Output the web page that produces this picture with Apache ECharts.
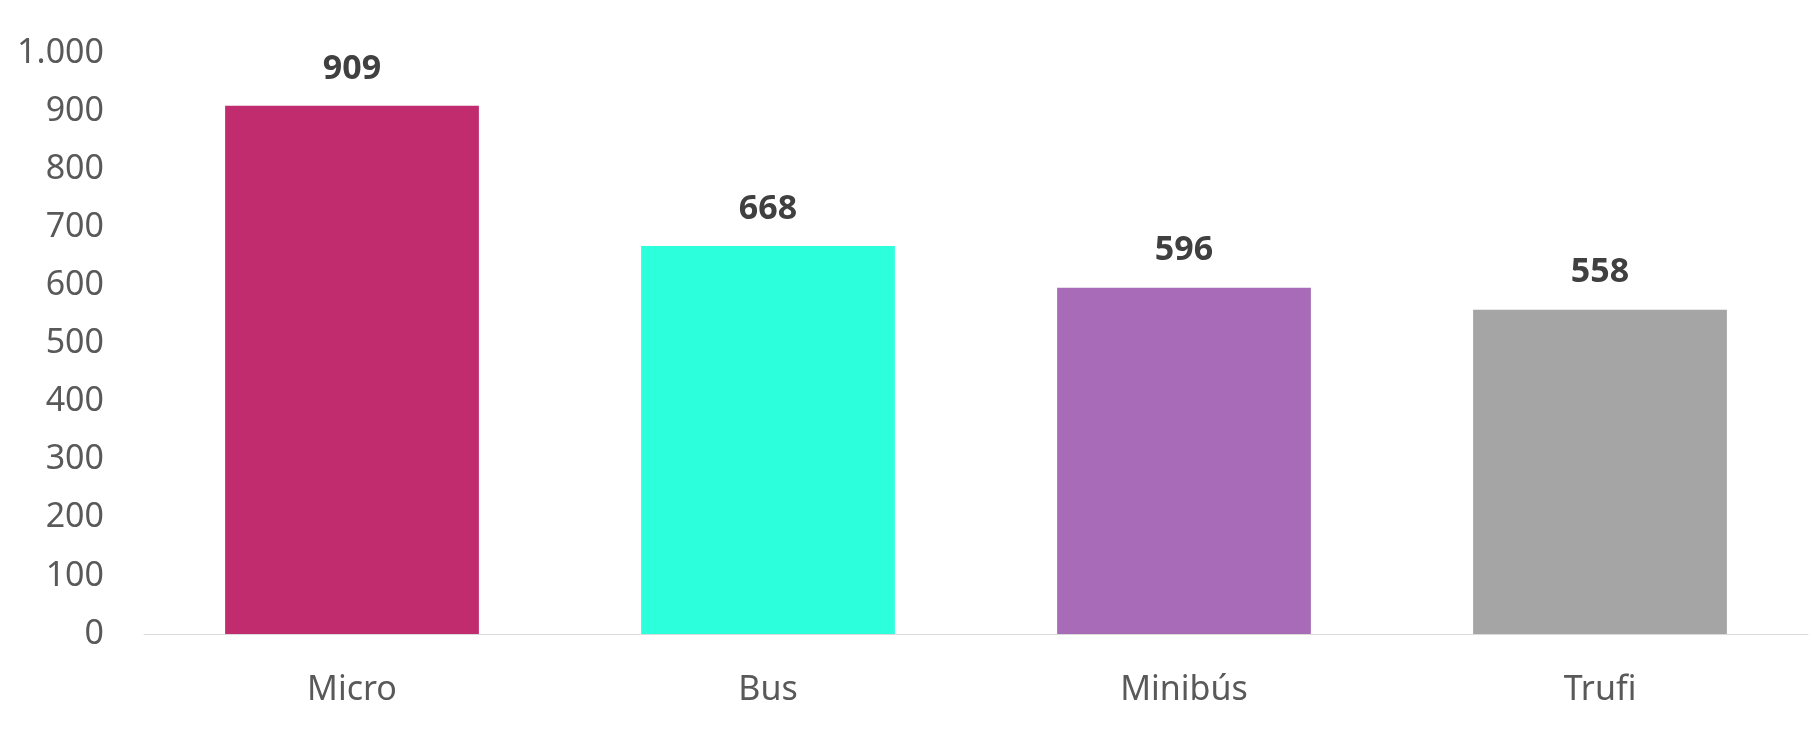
<!DOCTYPE html>
<html>
<head>
<meta charset="utf-8">
<script src="https://cdn.jsdelivr.net/npm/echarts@6/dist/echarts.min.js"></script>
<style>
  html, body { margin: 0; padding: 0; background: #fff; }
  #chart { width: 1812px; height: 731px; }
</style>
</head>
<body>
<div id="chart"></div>
<script>
var categorias = ['Micro', 'Bus', 'Minibús', 'Trufi']
var valores = [909, 668, 596, 558]
var colores = ['#C02C6E', '#2CFFDC', '#A86BB8', '#A5A5A5']

var myChart = echarts.init(document.getElementById('chart'))
myChart.setOption({
    animation: false,
    grid: { left: 144, right: 4, top: 53, bottom: 97 },
    xAxis: {
        type: 'category',
        data: categorias,
        axisLine: { lineStyle: { color: '#D9D9D9', width: 1 } },
        axisTick: { show: false },
        axisLabel: { color: '#595959', fontSize: 34, fontFamily: 'Noto Sans', margin: 39 }
    },
    yAxis: {
        type: 'value',
        min: 0,
        max: 1000,
        interval: 100,
        splitLine: { show: false },
        axisLine: { show: false },
        axisTick: { show: false },
        axisLabel: {
            color: '#595959', fontSize: 34, fontFamily: 'Noto Sans', margin: 40,
            formatter: function (v) { return v >= 1000 ? String(v).replace(/\B(?=(\d{3})+$)/g, '.') : v }
        }
    },
    series: [{
        type: 'bar',
        barCategoryGap: '39%',
        data: valores.map(function (v, i) {
            return { value: v, itemStyle: { color: colores[i] } }
        }),
        label: {
            show: true,
            position: 'top',
            distance: 20,
            color: '#404040',
            fontSize: 34,
            fontWeight: 'bold',
            fontFamily: 'Noto Sans'
        }
    }]
})
</script>
</body>
</html>
